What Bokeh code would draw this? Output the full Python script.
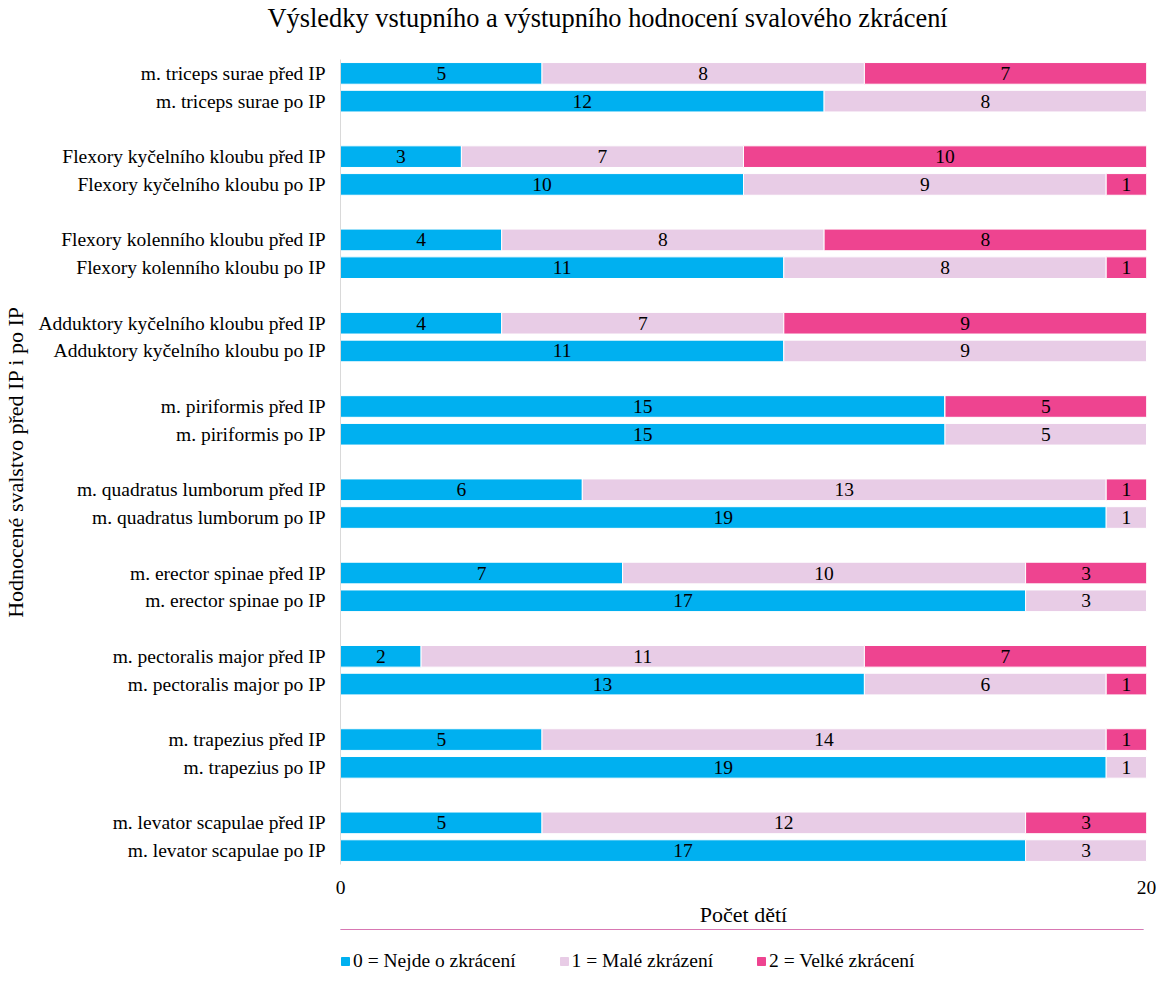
from bokeh.plotting import figure
from bokeh.layouts import column
from bokeh.models import ColumnDataSource, FixedTicker, Range1d, Legend, LegendItem, Title
from bokeh.core.properties import value
from bokeh.embed import file_html
from bokeh.resources import INLINE

title = "Výsledky vstupního a výstupního hodnocení svalového zkrácení"
x_label = "Počet dětí"
y_label = "Hodnocené svalstvo před IP i po IP"

categories = [
    "m. triceps surae před IP", "m. triceps surae po IP",
    "Flexory kyčelního kloubu před IP", "Flexory kyčelního kloubu po IP",
    "Flexory kolenního kloubu před IP", "Flexory kolenního kloubu po IP",
    "Adduktory kyčelního kloubu před IP", "Adduktory kyčelního kloubu po IP",
    "m. piriformis před IP", "m. piriformis po IP",
    "m. quadratus lumborum před IP", "m. quadratus lumborum po IP",
    "m. erector spinae před IP", "m. erector spinae po IP",
    "m. pectoralis major před IP", "m. pectoralis major po IP",
    "m. trapezius před IP", "m. trapezius po IP",
    "m. levator scapulae před IP", "m. levator scapulae po IP",
]
none_short = [5, 12, 3, 10, 4, 11, 4, 11, 15, 15, 6, 19, 7, 17, 2, 13, 5, 19, 5, 17]
small_short = [8, 8, 7, 9, 8, 8, 7, 9, 0, 5, 13, 1, 10, 3, 11, 6, 14, 1, 12, 3]
big_short = [7, 0, 10, 1, 8, 1, 9, 0, 5, 0, 1, 0, 3, 0, 7, 1, 1, 0, 3, 0]
series_names = ["0 = Nejde o zkrácení", "1 = Malé zkrázení", "2 = Velké zkrácení"]
colors = ["#00B0F0", "#E8CCE6", "#EE4490"]
x_ticks = [0, 20]

FONT = "Liberation Serif"
FS = "19.5px"

# y positions: groups of two bars with a gap between groups
ypos = [-(i // 2 * 3 + i % 2) for i in range(len(categories))]

src = ColumnDataSource(dict(y=ypos, s0=none_short, s1=small_short, s2=big_short))

p = figure(title=None, frame_width=806, frame_height=805, output_backend="svg", toolbar_location=None,
           x_range=Range1d(0, 20), y_range=Range1d(-28.5, 0.5),
           min_border_left=337, min_border_right=10, min_border_top=54, min_border_bottom=0)

# spacer nearest the frame, then the real title above it
p.add_layout(Title(text=" ", text_font_size="1px", standoff=24), "above")
p.add_layout(Title(text=title, align="left", offset=-73, text_font=FONT, text_font_size="26.4px",
                   text_font_style="normal", text_color="#000000", standoff=0), "above")

p.hbar_stack(["s0", "s1", "s2"], y="y", height=0.78, source=src,
             color=colors, line_color="white", line_width=1)

# segment labels
lab_x, lab_y, lab_t = [], [], []
for i in range(len(categories)):
    vals = [none_short[i], small_short[i], big_short[i]]
    left = 0
    for v in vals:
        if v > 0:
            lab_x.append(left + v / 2)
            lab_y.append(ypos[i])
            lab_t.append(str(v))
        left += v
p.text(x=lab_x, y=lab_y, text=lab_t, text_align="center", text_baseline="middle",
       text_font=value(FONT), text_font_size=FS, text_color="black")

# axes
p.yaxis.ticker = FixedTicker(ticks=ypos)
p.yaxis.major_label_overrides = {y: c for y, c in zip(ypos, categories)}
p.yaxis.major_label_text_font = FONT
p.yaxis.major_label_text_font_size = FS
p.yaxis.major_label_text_color = "black"
p.yaxis.major_tick_line_color = None
p.yaxis.major_tick_out = 0
p.yaxis.minor_tick_line_color = None
p.yaxis.axis_line_color = "#D9D9D9"
p.yaxis.major_label_standoff = 15
p.yaxis.axis_label = y_label
p.yaxis.axis_label_text_font = FONT
p.yaxis.axis_label_text_font_size = "22px"
p.yaxis.axis_label_text_font_style = "normal"
p.yaxis.axis_label_text_color = "black"
p.yaxis.axis_label_standoff = 7

p.xaxis.ticker = FixedTicker(ticks=x_ticks)
p.xaxis.axis_line_color = None
p.xaxis.major_tick_line_color = None
p.xaxis.major_tick_out = 0
p.xaxis.minor_tick_line_color = None
p.xaxis.major_label_text_font = FONT
p.xaxis.major_label_text_font_size = FS
p.xaxis.major_label_text_color = "black"
p.xaxis.major_label_standoff = 16
p.xaxis.axis_label = x_label
p.xaxis.axis_label_text_font = FONT
p.xaxis.axis_label_text_font_size = "22px"
p.xaxis.axis_label_text_font_style = "normal"
p.xaxis.axis_label_text_color = "black"
p.xaxis.axis_label_standoff = 5

p.ygrid.grid_line_color = None
p.xgrid.ticker = FixedTicker(ticks=x_ticks)
p.xgrid.grid_line_color = "#D9D9D9"
p.outline_line_color = None

# legend strip below the chart (swatch glyphs sit outside the strip's visible range)
p2 = figure(width=1153, height=43, output_backend="svg", toolbar_location=None,
            x_range=Range1d(0, 1), y_range=Range1d(0, 1),
            x_axis_location=None, y_axis_location=None, min_border=0)
p2.grid.visible = False
p2.outline_line_color = None
swatches = [p2.hbar(y=[5], left=[0], right=[1], height=0.5, color=c) for c in colors]
legend = Legend(items=[LegendItem(label=n, renderers=[r]) for n, r in zip(series_names, swatches)],
                orientation="horizontal", location=(0, 0),
                label_text_font=FONT, label_text_font_size=FS, label_text_color="black",
                glyph_width=10, glyph_height=10, spacing=43, label_standoff=3,
                border_line_color=None, background_fill_alpha=0, margin=0, padding=0)
p2.add_layout(legend, "center")

layout = column(p, p2, spacing=0)
open("out.html", "w").write(file_html(layout, INLINE))
